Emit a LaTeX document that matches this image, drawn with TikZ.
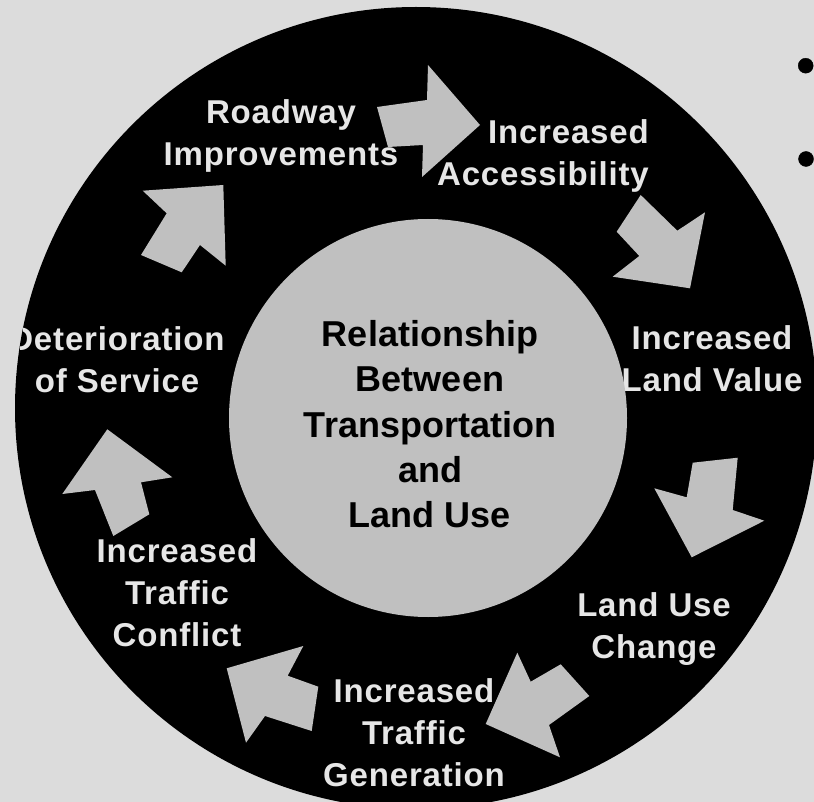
\documentclass[tikz,border=0pt]{standalone}
\usepackage{fontspec}
\setmainfont{Liberation Sans}
\newfontfamily\lblfont[LetterSpace=2.5]{Liberation Sans}
\usepackage{xcolor,tikz}
\definecolor{bggray}{HTML}{DCDCDC}
\definecolor{ringgray}{HTML}{C0C0C0}
\definecolor{textgray}{HTML}{E6E6E6}
\tikzset{
  steplabel/.style={inner sep=0pt, text=textgray, align=center,
    font=\lblfont\bfseries\fontsize{33}{42.3}\selectfont},
  hublabel/.style={inner sep=0pt, text=black, align=center,
    font=\bfseries\fontsize{36}{45.4}\selectfont},
  ringarrow/.style={fill=ringgray}
}

\begin{document}
\begin{tikzpicture}[x=1pt,y=-1pt]
          \useasboundingbox (0,0) rectangle (814,802);
          \clip (0,0) rectangle (814,802);
          \fill[bggray] (0,0) rectangle (814,802);
          % ring
          \fill[black] (416,408) circle (401pt);
          % arrows round the ring
          \fill[ringarrow] (377,107) -- (427,100) -- (428,65) -- (480,125) -- (422,177) -- (423,145) -- (388,147) -- cycle;
          \fill[ringarrow] (640.7,195) -- (677.3,230.7) -- (705,212.3) -- (690,288.3) -- (612.7,276.7) -- (639.3,256) -- (616.7,231.7) -- cycle;
          \fill[ringarrow] (692.7,462.7) -- (737.7,457.7) -- (732.7,510) -- (764.3,520.7) -- (691.7,557.3) -- (654.3,488.3) -- (686.7,497.3) -- cycle;
          \fill[ringarrow] (560.7,664.3) -- (589.3,696) -- (549,725) -- (560,757.3) -- (485.7,724) -- (517.3,652.7) -- (530.7,681.7) -- cycle;
          \fill[ringarrow] (303.3,646) -- (287.7,675.7) -- (318.3,686.7) -- (311.7,731) -- (265,716) -- (246,742.7) -- (226.7,668.3) -- cycle;
          \fill[ringarrow] (107.3,429.3) -- (172.3,477.3) -- (141,482.3) -- (149.3,514.3) -- (113.3,536) -- (95,490) -- (62.3,494) -- cycle;
          \fill[ringarrow] (223.3,185) -- (225.7,265.7) -- (200,245) -- (181.7,272.3) -- (141,255) -- (166.7,213.3) -- (142.7,190.7) -- cycle;
          % labels on the ring
          \begin{scope}
            \clip (416,408) circle (401pt);
            \node[steplabel, anchor=north] (roadway) at (281,99.5) {Roadway\\Improvements};
            \node[steplabel, anchor=north east, align=right] (access) at (649,119.5) {Increased\\Accessibility};
            \node[steplabel, anchor=north] (landvalue) at (712,325.5) {Increased\\Land Value};
            \node[steplabel, anchor=north] (landuse) at (654,592.5) {Land Use\\Change};
            \node[steplabel, anchor=north] (generation) at (414,678) {Increased\\Traffic\\Generation};
            \node[steplabel, anchor=north] (conflict) at (177,538) {Increased\\Traffic\\Conflict};
            \node[steplabel, anchor=north] (service) at (117,326.5) {Deterioration\\of Service};
          \end{scope}
          % hub
          \fill[ringgray] (428,418) circle (199pt);
          \node[hublabel, anchor=north] (hub) at (430,320) {Relationship\\Between\\Transportation\\and\\Land Use};
          % bullets
          \filldraw[black] (805.7,65.7) circle (7.5pt);
          \filldraw[black] (806,159) circle (7.5pt);
        \end{tikzpicture}
\end{document}
